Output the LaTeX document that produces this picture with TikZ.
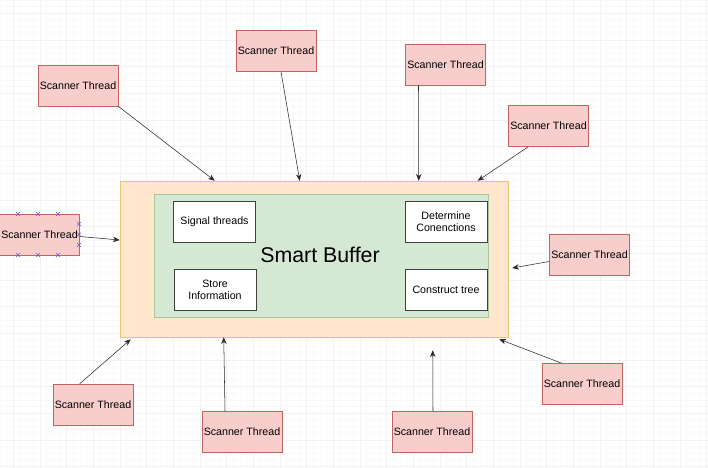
\documentclass[tikz,border=0pt]{standalone}
\usepackage{fontspec}
\setmainfont{Liberation Sans}
\usetikzlibrary{calc,arrows.meta}
\definecolor{thrfill}{HTML}{F8CECC}
\definecolor{thrline}{HTML}{BF6663}
\definecolor{buffill}{HTML}{FFE6CC}
\definecolor{bufline}{HTML}{EAC27C}
\definecolor{corefill}{HTML}{D5E8D4}
\definecolor{coreline}{HTML}{A8C896}
\definecolor{selcol}{HTML}{6A5ACD}

\begin{document}
\begin{tikzpicture}[x=0.75pt, y=-0.75pt,
		thread/.style={draw=thrline, fill=thrfill, minimum width=60pt, minimum height=30.75pt, inner sep=1pt, font=\fontsize{8}{9.6}\selectfont},
		task/.style={draw=black!75, fill=white, minimum width=61.5pt, minimum height=30.75pt, inner sep=1pt, align=center, font=\fontsize{8}{9}\selectfont},
		conn/.style={draw=black!85, -{Stealth[length=5pt,width=4pt]}},
		]
		\useasboundingbox (0,0) rectangle (708,468);
		\fill[white] (0,0) rectangle (708,468);
		% background grid
		\begin{scope}
		\clip (0,0) rectangle (708,468);
		\begin{scope}[xshift=10pt, yshift=-10pt]
		\draw[black!2, step=5pt] (-30,-30) grid (730,490);
		\draw[black!5, step=20pt] (-30,-30) grid (730,490);
		\end{scope}
		\end{scope}
		% buffer
		\node[draw=bufline, fill=buffill, minimum width=291pt, minimum height=117pt] (buf) at (314,259) {};
		\node[draw=coreline, fill=corefill, minimum width=250.5pt, minimum height=92.25pt] (core) at (321,255.5) {};
		\node[font=\fontsize{16}{18}\selectfont] (title) at (320,255) {Smart Buffer};
		\node[task] (sig) at (214.5,221.5) {Signal threads};
		\node[task] (det) at (446,221.5) {Determine\\Conenctions};
		\node[task] (store) at (215,289.5) {Store\\Information};
		\node[task] (tree) at (446,289.5) {Construct tree};
		% scanner threads
		\node[thread] (st1) at (78,85.5) {Scanner Thread};
		\node[thread] (st2) at (276,51) {Scanner Thread};
		\node[thread] (st3) at (445.5,64.5) {Scanner Thread};
		\node[thread] (st4) at (548.5,126) {Scanner Thread};
		\node[thread] (st5) at (39.5,234.5) {Scanner Thread};
		\node[thread] (st6) at (589.5,254.5) {Scanner Thread};
		\node[thread] (st7) at (93,404.5) {Scanner Thread};
		\node[thread] (st8) at (242,432) {Scanner Thread};
		\node[thread] (st9) at (432,432) {Scanner Thread};
		\node[thread] (st10) at (582,384) {Scanner Thread};
		% selection handles
		\foreach \px/\py in {18/214,38/214,58/214,18/255,38/255,58/255,79/224,79/234.5,79/245}
		\draw[selcol, line width=0.5pt] ({\px-2},{\py-2}) -- ({\px+2},{\py+2}) ({\px-2},{\py+2}) -- ({\px+2},{\py-2});
		% connectors
		\draw[conn] (st1.south east) -- ($(buf.north west)+(95,0)$);
		\draw[conn] ($(st2.south)+(5,0)$) -- ($(buf.north west)+(180,0)$);
		\draw[conn] ($(st3.south)+(-27,0)$) -- ($(buf.north west)+(299,0)$);
		\draw[conn] ($(st4.south west)+(20,0)$) -- ($(buf.north west)+(358,0)$);
		\draw[conn] ($(st5.east)+(0,2)$) -- ($(buf.west)+(0,-19)$);
		\draw[conn] ($(st6.west)+(0,7)$) -- ($(buf.east)+(4,9)$);
		\draw[conn] ($(st7.north west)+(27,0)$) -- ($(buf.south west)+(11,2)$);
		\draw[conn] ($(st8.north)+(-17,0)$) -- ($(buf.south west)+(104,0)$);
		\draw[conn] ($(st9.north)+(1,0)$) -- ($(buf.south west)+(313,13)$);
		\draw[conn] ($(st10.north west)+(20,0)$) -- ($(buf.south east)+(-9,2)$);
	\end{tikzpicture}
\end{document}
